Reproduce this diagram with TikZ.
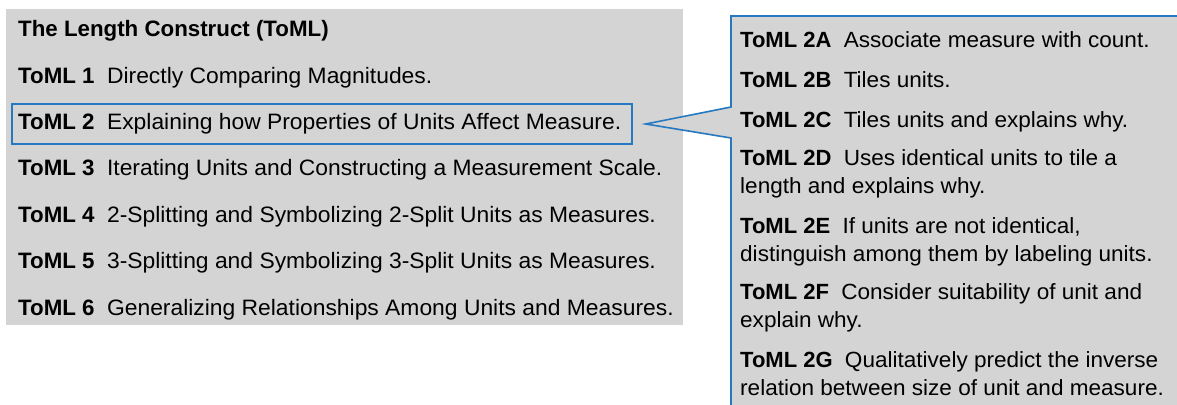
\documentclass[tikz,border=0pt]{standalone}
\usepackage{fontspec}
\setmainfont{Liberation Sans}[UprightFeatures={FakeStretch=1.025}]
\definecolor{calloutblue}{RGB}{38,120,192}
\definecolor{panelgray}{RGB}{212,212,212}
\tikzset{
  level/.style={anchor=base west, inner sep=0pt, font=\fontsize{22.3}{26}\selectfont},
  sublevel/.style={anchor=base west, inner sep=0pt, align=left, font=\fontsize{22}{28}\selectfont},
}
\newcommand{\tomltag}[1]{\textbf{ToML #1}\hspace{0.56em}}

\begin{document}
\begin{tikzpicture}[x=1pt,y=-1pt]
  \clip (0,0) rectangle (1177,404);
  \fill[white] (0,0) rectangle (1177,404);

  % the six levels
  \fill[panelgray] (6,9) rectangle (683,325);
  \node[level] (title) at (18,37) {\textbf{The Length Construct (ToML)}};
  \node[level] (toml1) at (18,83) {\tomltag{1}Directly Comparing Magnitudes.};
  \node[level] (toml2) at (18,129) {\tomltag{2}Explaining how Properties of Units Affect Measure.};
  \node[level] (toml3) at (18,175) {\tomltag{3}Iterating Units and Constructing a Measurement Scale.};
  \node[level] (toml4) at (18,222) {\tomltag{4}2-Splitting and Symbolizing 2-Split Units as Measures.};
  \node[level] (toml5) at (18,268) {\tomltag{5}3-Splitting and Symbolizing 3-Split Units as Measures.};
  \node[level] (toml6) at (18,315) {\tomltag{6}Generalizing Relationships Among Units and Measures.};
  \node[draw=calloutblue, line width=1.6pt, minimum width=620pt, minimum height=40pt, inner sep=0pt] (focus) at (322,124) {};

  % callout with the sublevels of ToML 2 (multi-line nodes sit on their last line)
  \coordinate (tip) at ([xshift=13pt]focus.east);
  \filldraw[fill=panelgray, draw=calloutblue, line width=1.6pt]
    (731,107) -- (tip) -- (731,138) -- (731,430) -- (1190,430) -- (1190,16) -- (731,16) -- cycle;
  \node[sublevel] (toml2a) at (740,48) {\tomltag{2A}Associate measure with count.};
  \node[sublevel] (toml2b) at (740,88) {\tomltag{2B}Tiles units.};
  \node[sublevel] (toml2c) at (740,127) {\tomltag{2C}Tiles units and explains why.};
  \node[sublevel] (toml2d) at (740,193) {\tomltag{2D}Uses identical units to tile a\\length and explains why.};
  \node[sublevel] (toml2e) at (740,261) {\tomltag{2E}If units are not identical,\\distinguish among them by labeling units.};
  \node[sublevel] (toml2f) at (740,327) {\tomltag{2F}Consider suitability of unit and\\explain why.};
  \node[sublevel] (toml2g) at (740,395) {\tomltag{2G}Qualitatively predict the inverse\\relation between size of unit and measure.};
\end{tikzpicture}
\end{document}
